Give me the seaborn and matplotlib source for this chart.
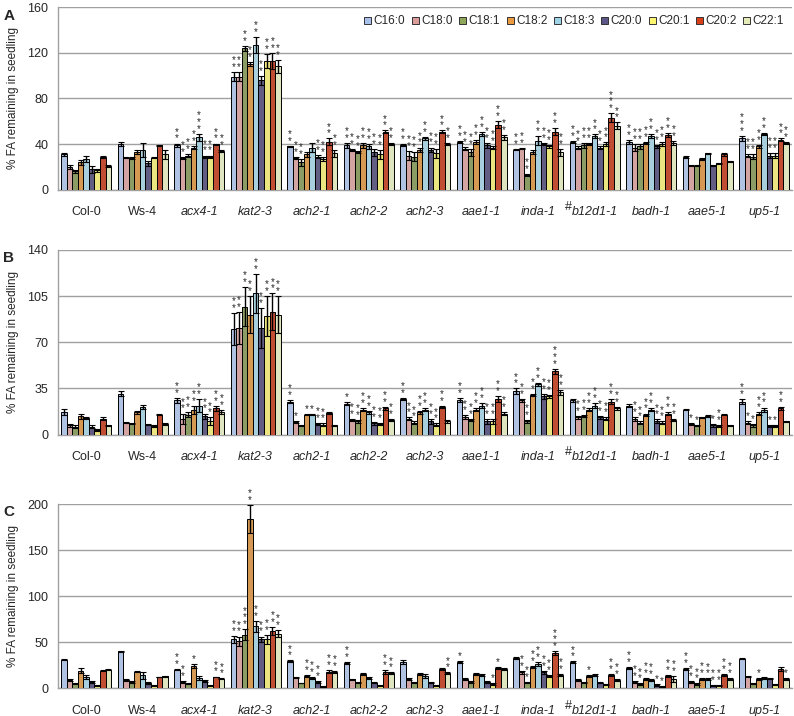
import matplotlib

matplotlib.use("Agg")
import matplotlib.pyplot as plt
from matplotlib.patches import Patch
from matplotlib.transforms import blended_transform_factory
import pandas as pd
import seaborn as sns

GENOTYPES = ["Col-0", "Ws-4", "acx4-1", "kat2-3", "ach2-1", "ach2-2", "ach2-3",
             "aae1-1", "inda-1", "b12d1-1", "badh-1", "aae5-1", "up5-1"]
WILD_TYPES = ["Col-0", "Ws-4"]
FATTY_ACIDS = ["C16:0", "C18:0", "C18:1", "C18:2", "C18:3",
               "C20:0", "C20:1", "C20:2", "C22:1"]
COLORS = ["#a9c1ea", "#dc9c9a", "#8ea75a", "#eb9a3f", "#9fd3e6",
          "#5d5788", "#fbf56f", "#d9401a", "#e4ebb8"]

# panel A (rows = genotypes, columns = fatty acids)
A_MEANS = [
    [31, 20, 16, 24, 27, 18, 17, 29, 21],
    [40, 28, 28, 33, 35, 23, 28, 39, 31],
    [39, 28, 30, 37, 46, 29, 29, 40, 34],
    [99, 99, 124, 110, 127, 96, 113, 113, 108],
    [38, 28, 24, 31, 37, 29, 27, 42, 32],
    [39, 35, 33, 39, 38, 33, 31, 51, 40],
    [39, 30, 29, 35, 45, 35, 32, 51, 40],
    [42, 36, 33, 42, 49, 39, 37, 57, 46],
    [35, 36, 13, 33, 43, 40, 38, 51, 33],
    [42, 37, 39, 40, 47, 37, 40, 63, 56],
    [42, 37, 38, 41, 47, 38, 40, 48, 41],
    [29, 21, 21, 27, 32, 21, 23, 31, 25],
    [45, 30, 29, 38, 49, 30, 30, 44, 41],
]
A_ERRS = [
    [1, 1.5, 1.5, 2, 3, 3, 1.5, 1, 1],
    [1.5, 0.5, 1, 2, 6, 2, 0.5, 0.5, 4],
    [1.5, 1, 1, 1.5, 3, 1, 1, 0.5, 1],
    [4, 4, 2, 2, 7, 4, 6, 7, 6],
    [0.5, 1, 3, 2, 4, 1.5, 1.5, 3, 3],
    [2, 1, 1, 2, 2, 3, 4, 1, 1],
    [1, 4, 4, 2, 1, 2, 4, 1, 1],
    [1, 1.5, 3, 1.5, 1.5, 2, 1, 3, 2],
    [0.5, 0.5, 1, 2, 4, 1, 1, 3, 3],
    [1, 1.5, 2, 1, 1.5, 1, 1.5, 4, 3],
    [1.5, 3, 2, 1, 2, 1.5, 2, 2, 1.5],
    [1, 0.5, 0.5, 0.5, 0.5, 0.5, 0.5, 1, 0.5],
    [2, 1, 2, 1, 1, 2, 2, 1, 1],
]
A_STARS = [
    [0, 0, 0, 0, 0, 0, 0, 0, 0],
    [0, 0, 0, 0, 0, 0, 0, 0, 0],
    [2, 2, 2, 2, 3, 2, 2, 2, 2],
    [2, 2, 2, 2, 2, 2, 2, 2, 2],
    [2, 2, 2, 0, 0, 2, 2, 2, 2],
    [2, 2, 2, 2, 2, 2, 2, 2, 2],
    [2, 2, 2, 2, 2, 2, 2, 2, 2],
    [2, 2, 2, 2, 2, 2, 2, 2, 2],
    [2, 2, 2, 0, 2, 2, 2, 2, 2],
    [2, 2, 2, 2, 2, 2, 2, 3, 2],
    [2, 2, 2, 2, 2, 2, 2, 2, 2],
    [0, 0, 0, 0, 0, 0, 0, 0, 0],
    [3, 2, 2, 2, 2, 2, 2, 2, 2],
]

# panel B
B_MEANS = [
    [17, 7, 6, 14, 12.5, 6, 3.5, 12, 7],
    [31, 9, 8.5, 17, 21, 7.5, 6.5, 15, 8],
    [26, 12, 15, 19, 22, 14, 10, 20, 17],
    [80, 81, 97, 91, 107, 81, 90, 93, 91],
    [25, 9.5, 7, 15, 15, 8, 7.5, 16.5, 7],
    [23.5, 11, 10, 19, 17, 8.5, 8, 20, 11],
    [27, 12, 9, 17, 19, 10, 7.5, 21, 10],
    [26, 13, 11, 19, 22, 10, 10, 27, 16],
    [33, 26, 10, 30, 38, 29, 29, 48, 32],
    [26, 13, 14, 19, 22, 13, 12, 25, 20],
    [22, 12, 9, 15, 19, 10, 9, 16, 11],
    [19, 8, 7, 13, 14, 7, 6.5, 15, 7],
    [25, 9, 7, 16, 19, 6.5, 6.5, 20, 10],
]
B_ERRS = [
    [2.5, 1, 1, 2, 1, 1, 0.5, 1, 0.5],
    [2, 0.5, 0.5, 1, 1.5, 0.5, 0.5, 0.5, 0.5],
    [2, 4, 2, 3, 5, 2, 3, 2, 1.5],
    [12, 12, 15, 14, 15, 15, 15, 14, 14],
    [1, 1, 0.5, 0.5, 0.5, 1, 1, 0.5, 0.5],
    [1, 1, 1, 1, 1, 1, 1, 1, 1],
    [1, 1, 1, 1, 1, 2, 1, 1, 1],
    [1.5, 1.5, 1, 1, 2, 2, 2, 2, 1],
    [2, 1, 1, 1, 1, 2, 1, 2, 2],
    [1, 1, 1, 1, 2, 1, 1, 2, 1],
    [1, 1.5, 1, 1, 1, 1.5, 1, 1, 1],
    [0.5, 1, 0.5, 0.5, 0.5, 1, 1, 0.5, 0.5],
    [2, 1, 1, 1, 1.5, 1, 1, 1, 0.5],
]
B_STARS = [
    [0, 0, 0, 0, 0, 0, 0, 0, 0],
    [0, 0, 0, 0, 0, 0, 0, 0, 0],
    [2, 2, 2, 2, 2, 2, 2, 2, 2],
    [2, 2, 2, 2, 2, 2, 2, 2, 2],
    [2, 1, 0, 1, 1, 2, 2, 0, 0],
    [1, 2, 2, 2, 2, 2, 2, 2, 2],
    [2, 2, 2, 2, 2, 2, 2, 2, 0],
    [2, 2, 2, 2, 2, 2, 2, 2, 2],
    [2, 2, 2, 2, 2, 2, 2, 3, 2],
    [0, 2, 2, 2, 2, 2, 2, 2, 2],
    [0, 2, 2, 2, 2, 2, 2, 2, 2],
    [0, 1, 1, 0, 0, 1, 2, 0, 0],
    [2, 1, 1, 2, 2, 1, 1, 2, 0],
]

# panel C
C_MEANS = [
    [31, 9, 5, 19, 12, 6.5, 3, 19, 20],
    [40, 9, 7, 18, 14, 5.5, 3, 12, 13],
    [20, 7, 4.5, 24, 11, 8, 2.5, 12, 10],
    [53, 51, 58, 184, 67, 53, 53, 62, 59],
    [29, 11, 5.5, 13, 11, 6.5, 2, 18, 17.5],
    [27, 9.5, 6.5, 15, 11, 6, 2.5, 17.5, 16],
    [28, 10, 6.5, 15, 13, 6, 2.5, 21, 16],
    [28, 10, 7, 15, 14, 7, 4, 22, 21],
    [33, 17, 6, 23, 26, 17, 13, 38, 14],
    [28, 9, 6, 13, 14, 6, 4, 14, 9],
    [22, 7, 4, 10, 9, 3.5, 2, 13, 10],
    [21, 6.5, 4, 10, 9.5, 3, 3, 14, 10],
    [32, 12.5, 5, 10, 11, 10, 4, 21, 9.5],
]
C_ERRS = [
    [1, 1, 1, 3, 2, 1, 0.5, 0.5, 0.5],
    [0.5, 1, 1, 1, 4, 1, 0.5, 0.5, 0.5],
    [0.5, 1, 0.5, 2, 2, 1, 0.5, 0.5, 0.5],
    [4, 5, 6, 15, 6, 3, 5, 4, 4],
    [1, 0.5, 0.5, 1, 1, 1, 0.5, 2, 1],
    [1, 0.5, 0.5, 1, 1, 0.5, 0.5, 2, 1],
    [2, 1, 0.5, 1, 2, 0.5, 0.5, 1, 1],
    [1, 1, 1, 1, 1, 1, 1, 1, 1],
    [1, 2, 1, 1, 2, 2, 1, 2, 1],
    [1, 1, 0.5, 1, 1, 0.5, 0.5, 1, 1],
    [1, 1, 1, 1, 1, 1, 0.5, 1, 3],
    [1, 1, 1, 1, 1, 0.5, 0.5, 1, 1],
    [0.5, 0.5, 0.5, 1, 1, 0.5, 0.5, 2, 1],
]
C_STARS = [
    [0, 0, 0, 0, 0, 0, 0, 0, 0],
    [0, 0, 0, 0, 0, 0, 0, 0, 0],
    [2, 2, 0, 1, 0, 0, 0, 2, 2],
    [2, 2, 3, 2, 2, 2, 2, 2, 2],
    [2, 0, 0, 2, 2, 2, 0, 2, 2],
    [2, 0, 0, 0, 0, 0, 0, 2, 2],
    [0, 0, 0, 0, 0, 0, 0, 0, 2],
    [1, 0, 0, 0, 0, 0, 1, 1, 0],
    [0, 2, 2, 2, 2, 2, 2, 3, 2],
    [2, 0, 0, 1, 0, 0, 0, 2, 2],
    [2, 2, 2, 2, 2, 1, 1, 2, 2],
    [2, 2, 2, 2, 2, 2, 2, 2, 2],
    [0, 0, 0, 1, 0, 0, 0, 0, 1],
]

PANELS = [
    ("A", A_MEANS, A_ERRS, A_STARS, [0, 40, 80, 120, 160]),
    ("B", B_MEANS, B_ERRS, B_STARS, [0, 35, 70, 105, 140]),
    ("C", C_MEANS, C_ERRS, C_STARS, [0, 50, 100, 150, 200]),
]
# axes boxes in figure fractions: left, bottom, width, height
AX_BOXES = [
    [0.073, 0.735, 0.925, 0.255],
    [0.073, 0.393, 0.925, 0.258],
    [0.073, 0.039, 0.925, 0.257],
]


def long_form(means, errs, stars):
    rows = []
    for g, m_row, e_row, s_row in zip(GENOTYPES, means, errs, stars):
        for fa, m, e, s in zip(FATTY_ACIDS, m_row, e_row, s_row):
            rows.append({"genotype": g, "fa": fa, "value": m, "err": e, "stars": s})
    return pd.DataFrame(rows)


sns.set_style("white")
plt.rcParams["font.family"] = ["Liberation Sans", "DejaVu Sans"]

fig = plt.figure(figsize=(7.94, 7.16), dpi=100)
grid_col = "#a0a0a0"

for (letter, means, errs, stars, yticks), box in zip(PANELS, AX_BOXES):
    ax = fig.add_axes(box)
    df = long_form(means, errs, stars)
    sns.barplot(data=df, x="genotype", y="value", hue="fa", order=GENOTYPES,
                hue_order=FATTY_ACIDS, palette=COLORS, width=0.88, gap=0,
                errorbar=None, edgecolor="black", linewidth=0.7, legend=False,
                ax=ax, zorder=3)

    # error bars and significance stars per bar
    for fa, cont in zip(FATTY_ACIDS, ax.containers):
        sub = df[df["fa"] == fa].set_index("genotype").loc[GENOTYPES]
        for patch, (_, r) in zip(cont.patches, sub.iterrows()):
            xc = patch.get_x() + patch.get_width() / 2
            ax.errorbar(xc, r["value"], yerr=r["err"], fmt="none",
                        ecolor="black", elinewidth=1.0, capsize=2.2,
                        capthick=0.8, zorder=4)
            if r["stars"] > 0:
                ax.annotate("\n".join(["*"] * int(r["stars"])),
                            xy=(xc, r["value"] + r["err"]), xytext=(0, 0),
                            textcoords="offset points", ha="center", va="bottom",
                            fontsize=7, linespacing=0.6, zorder=5)

    ax.set_ylim(yticks[0], yticks[-1])
    ax.set_yticks(yticks)
    ax.set_xlim(-0.5, len(GENOTYPES) - 0.5)
    ax.yaxis.grid(True, color=grid_col, linewidth=1.0, zorder=0)
    ax.set_axisbelow(True)
    for side in ("top", "right"):
        ax.spines[side].set_visible(False)
    for side in ("left", "bottom"):
        ax.spines[side].set_color(grid_col)
        ax.spines[side].set_linewidth(1.0)

    ax.set_xlabel("")
    ax.set_ylabel("% FA remaining in seedling", fontsize=8.5, labelpad=6)
    ax.tick_params(axis="y", labelsize=9, length=3, color=grid_col, pad=4)
    ax.set_xticks(range(len(GENOTYPES)))
    ax.set_xticks([i - 0.5 for i in range(len(GENOTYPES) + 1)], minor=True)
    ax.tick_params(axis="x", which="major", length=0, pad=12, labelsize=9)
    ax.tick_params(axis="x", which="minor", length=4, color=grid_col)
    ax.set_xticklabels(GENOTYPES)
    for lab in ax.get_xticklabels():
        if lab.get_text() not in WILD_TYPES:
            lab.set_style("italic")

    # raised hash before b12d1-1
    trans = blended_transform_factory(ax.transData, ax.transAxes)
    ax.annotate("#", xy=(GENOTYPES.index("b12d1-1") - 0.47, 0), xycoords=trans,
                xytext=(0, -17), textcoords="offset points", ha="center",
                va="bottom", fontsize=9)

    fig.text(0.004, box[1] + box[3] - 0.002, letter, fontsize=11,
             fontweight="bold", va="top", ha="left")

    if letter == "A":
        handles = [Patch(facecolor=c, edgecolor="#333333", linewidth=0.7, label=fa)
                   for c, fa in zip(COLORS, FATTY_ACIDS)]
        ax.legend(handles=handles, loc="upper right", bbox_to_anchor=(1.0, 1.0),
                  ncol=9, frameon=False, fontsize=8.5, handlelength=0.6,
                  handleheight=0.6, handletextpad=0.2, columnspacing=0.55,
                  borderaxespad=0.3)

fig.savefig("out.png", dpi=100)
